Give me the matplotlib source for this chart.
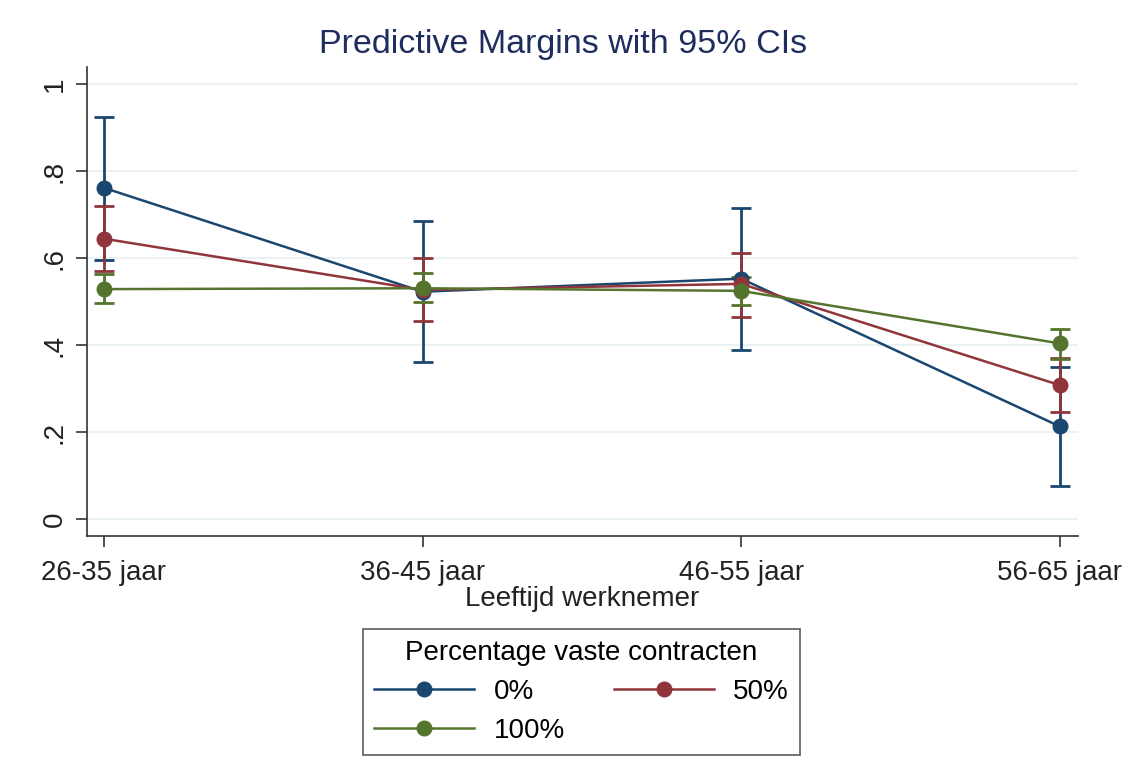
import matplotlib
matplotlib.use("Agg")
import matplotlib.pyplot as plt
from matplotlib.lines import Line2D

plt.rcParams['font.family'] = ['Liberation Sans', 'DejaVu Sans']

age_groups = ["26-35 jaar", "36-45 jaar", "46-55 jaar", "56-65 jaar"]
series_labels = ["0%", "50%", "100%"]

margin_0 = [0.762, 0.523, 0.553, 0.213]
lower_0 = [0.597, 0.361, 0.388, 0.076]
upper_0 = [0.925, 0.685, 0.715, 0.350]

margin_50 = [0.645, 0.527, 0.541, 0.308]
lower_50 = [0.570, 0.455, 0.465, 0.246]
upper_50 = [0.720, 0.601, 0.612, 0.370]

margin_100 = [0.529, 0.531, 0.525, 0.404]
lower_100 = [0.496, 0.499, 0.493, 0.369]
upper_100 = [0.563, 0.566, 0.558, 0.437]

y_ticks = [0, 0.2, 0.4, 0.6, 0.8, 1.0]
y_tick_labels = ["0", ".2", ".4", ".6", ".8", "1"]

colors = ["#1a476f", "#90353b", "#55752f"]
series = [
    (margin_0, lower_0, upper_0),
    (margin_50, lower_50, upper_50),
    (margin_100, lower_100, upper_100),
]

fig = plt.figure(figsize=(11.26, 7.84), dpi=100)
ax = fig.add_axes([87 / 1126, 1 - 536 / 784, (1078 - 87) / 1126, (536 - 67) / 784])

x = list(range(1, len(age_groups) + 1))

# confidence intervals first, then connected point estimates on top
for (m, lo, hi), c in zip(series, colors):
    ax.errorbar(x, m, yerr=[[mi - l for mi, l in zip(m, lo)], [h - mi for mi, h in zip(m, hi)]],
                fmt='none', ecolor=c, elinewidth=2.0, capsize=7, capthick=2.0, zorder=2)
for (m, lo, hi), c in zip(series, colors):
    ax.plot(x, m, color=c, lw=1.8, marker='o', markersize=10.5, zorder=3)

ax.set_xlim(0.947, 4.057)
ax.set_ylim(-0.039, 1.04)
ax.set_xticks(x)
ax.set_xticklabels(age_groups, fontsize=20, color="#222222")
ax.set_yticks(y_ticks)
ax.set_yticklabels(y_tick_labels, fontsize=20, rotation=90, va='center', color="#222222")
ax.tick_params(axis='both', length=8, width=1.2, color="#333333", pad=6)
ax.tick_params(axis='x', pad=9)
ax.grid(axis='y', color="#eaf2f3", lw=1.5)
ax.set_axisbelow(True)
for s in ['top', 'right']:
    ax.spines[s].set_visible(False)
for s in ['left', 'bottom']:
    ax.spines[s].set_color("#333333")
    ax.spines[s].set_linewidth(1.2)

ax.set_xlabel("Leeftijd werknemer", fontsize=20, color="#222222", labelpad=0)
fig.text(0.5, 1 - 44 / 784, "Predictive Margins with 95% CIs", fontsize=24.5,
         color="#1e2d5e", ha='center', va='center')

# legend fills column-wise: order handles so rows read 0%, 50% / 100%
handles = [Line2D([0], [0], color=c, lw=1.8, marker='o', markersize=10.5) for c in colors]
order = [0, 2, 1]
leg = fig.legend([handles[i] for i in order], [series_labels[i] for i in order],
                 loc='center', ncol=2,
                 bbox_to_anchor=((363 + 800) / 2 / 1126, 1 - 692 / 784),
                 title="Percentage vaste contracten", title_fontsize=20, fontsize=20,
                 frameon=True, fancybox=False, edgecolor="#333333", handlelength=3.6,
                 handletextpad=0.7, columnspacing=1.75, borderpad=0.4, labelspacing=0.45)
leg.get_frame().set_linewidth(1.2)

fig.savefig("out.png", dpi=100, facecolor="white")
